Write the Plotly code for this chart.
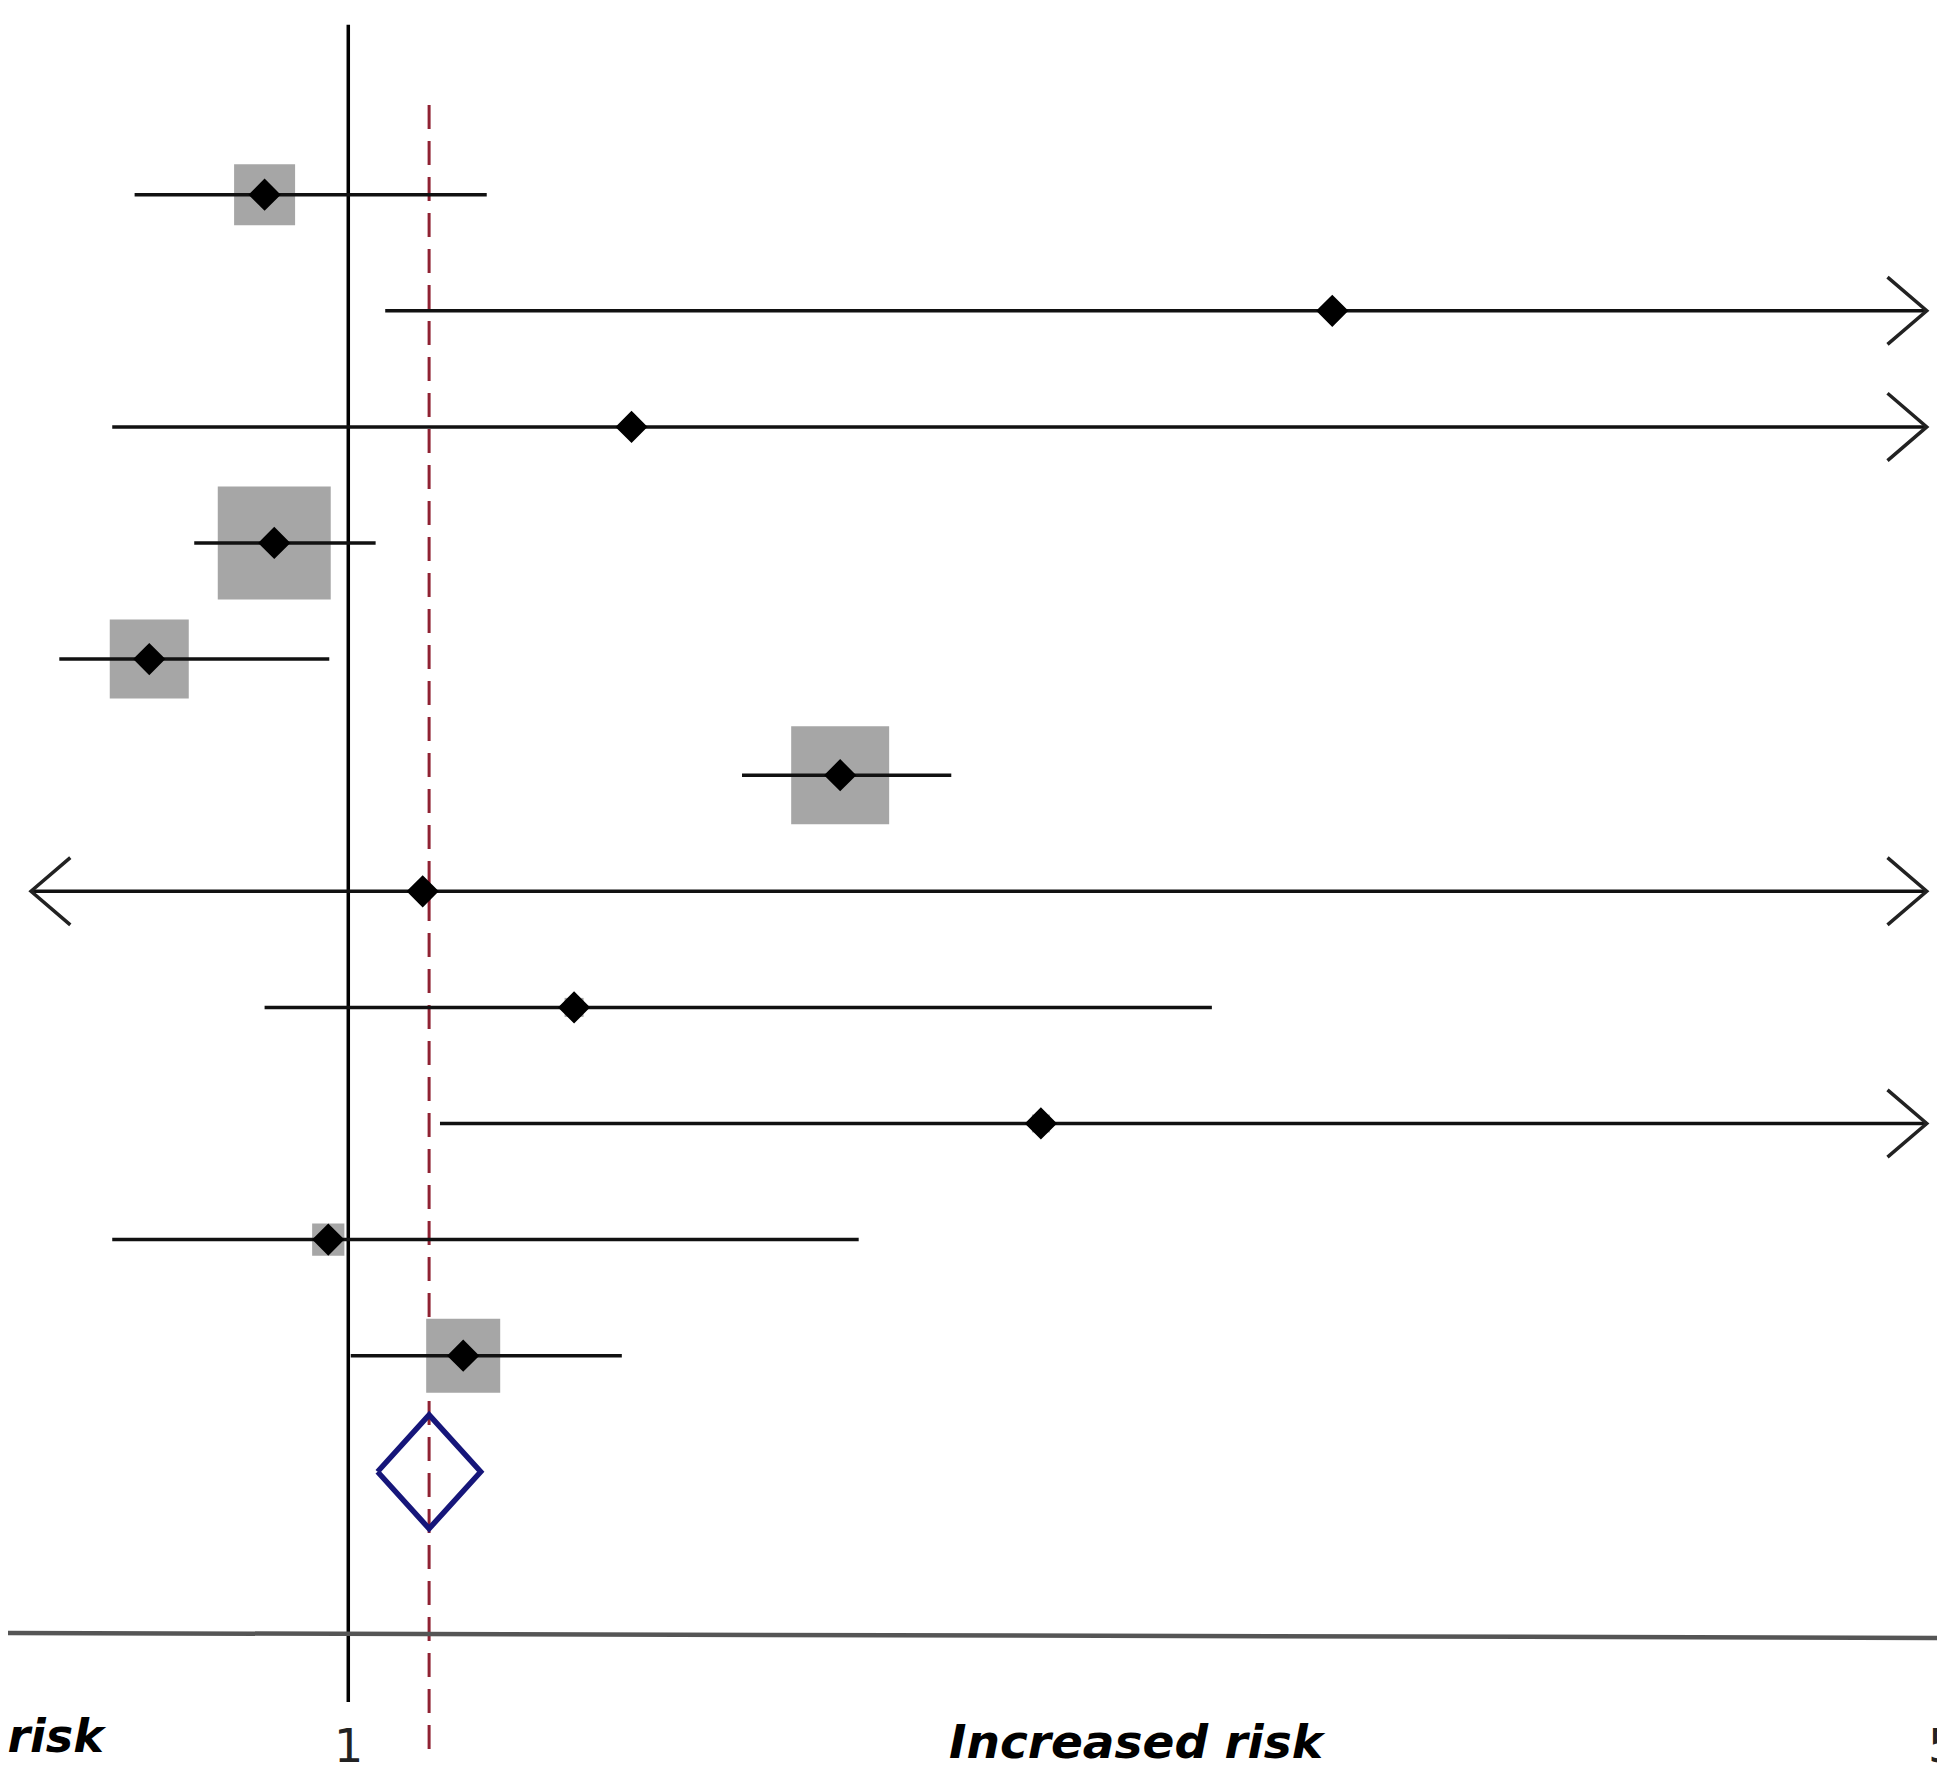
import numpy as np
import plotly.graph_objects as go

# ---------------- data ----------------
studies = ["Study 1", "Study 2", "Study 3", "Study 4", "Study 5", "Study 6",
           "Study 7", "Study 8", "Study 9", "Study 10", "Study 11"]
risk_ratio = [0.919, 2.70, 1.331, 0.928, 0.818, 1.643, 1.078, 1.256, 2.012, 0.980, 1.123]
ci_low = [0.806, 1.038, 0.788, 0.856, 0.747, 1.488, 0.45, 0.919, 1.097, 0.788, 1.0025]
ci_high = [1.150, 9.5, 7.5, 1.028, 0.981, 1.838, 6.0, 2.391, 7.0, 1.674, 1.318]
weight_pct = [9.3, 0.4, 0.5, 31.9, 15.6, 24.0, 0.3, 0.9, 0.8, 2.6, 13.7]
pooled_rr = 1.085
pooled_low = 1.030
pooled_high = 1.143
tick_vals = [1, 5]
tick_text = ["1", "5"]
label_left = "Reduced risk"
label_right = "Increased risk"

# ---------------- style constants ----------------
W, H = 1937, 1764
X_RANGE = [np.log10(0.7093), np.log10(5.0) + 0.001]
Y_RANGE = [14.586, -0.608]
CLIP_LO, CLIP_HI = 0.726, 4.92
ARM_F = 10 ** 0.0172
ARM_Y = 0.29
SQ_SCALE = 20.0
DIAMOND_HALF = 0.49
FONT = "DejaVu Sans"

rows = list(range(1, len(studies) + 1))
pooled_row = len(studies) + 1

fig = go.Figure()

# weight squares
fig.add_trace(go.Scatter(
    x=risk_ratio, y=rows, mode="markers",
    marker=dict(symbol="square", size=[SQ_SCALE * np.sqrt(w) for w in weight_pct],
                color="#a6a6a6", opacity=1, line=dict(width=0)),
    hoverinfo="skip"))

# CI lines + arrow chevrons
lx, ly, ax_, ay_ = [], [], [], []
for r, lo, hi in zip(rows, ci_low, ci_high):
    lo_d = max(lo, CLIP_LO)
    hi_d = min(hi, CLIP_HI)
    lx += [lo_d, hi_d, None]
    ly += [r, r, None]
    if hi > CLIP_HI:
        ax_ += [hi_d / ARM_F, hi_d, hi_d / ARM_F, None]
        ay_ += [r - ARM_Y, r, r + ARM_Y, None]
    if lo < CLIP_LO:
        ax_ += [lo_d * ARM_F, lo_d, lo_d * ARM_F, None]
        ay_ += [r - ARM_Y, r, r + ARM_Y, None]

fig.add_trace(go.Scatter(x=lx, y=ly, mode="lines",
                         line=dict(color="#111111", width=3.5), hoverinfo="skip"))
fig.add_trace(go.Scatter(x=ax_, y=ay_, mode="lines",
                         line=dict(color="#222222", width=3.5), hoverinfo="skip"))

# point estimates
fig.add_trace(go.Scatter(
    x=risk_ratio, y=rows, mode="markers",
    marker=dict(symbol="diamond", size=21, color="black",
                line=dict(color="black", width=3.5)),
    hoverinfo="skip"))

# pooled diamond
fig.add_trace(go.Scatter(
    x=[pooled_low, pooled_rr, pooled_high, pooled_rr, pooled_low],
    y=[pooled_row, pooled_row - DIAMOND_HALF, pooled_row,
       pooled_row + DIAMOND_HALF, pooled_row],
    mode="lines", line=dict(color="#16167a", width=5.5), hoverinfo="skip"))

shapes = [
    # line of no effect
    dict(type="line", xref="x", yref="paper", x0=1, x1=1, y0=0.0397, y1=0.9905,
         line=dict(color="black", width=3.5), layer="below"),
    # pooled estimate dashed line
    dict(type="line", xref="x", yref="paper", x0=pooled_rr, x1=pooled_rr,
         y0=0.013, y1=0.9484,
         line=dict(color="#8f2233", width=3, dash="24px,12px"), layer="below"),
    # horizontal axis line
    dict(type="line", xref="paper", yref="paper", x0=0, x1=1, y0=0.0788, y1=0.0760,
         line=dict(color="#555555", width=4.5), layer="above"),
]

annotations = []
for v, t in zip(tick_vals, tick_text):
    annotations.append(dict(x=np.log10(v), y=0.0150, xref="x", yref="paper", text=t,
                            showarrow=False, xanchor="center", yanchor="middle",
                            font=dict(family=FONT, size=46, color="#222222")))
annotations.append(dict(x=100 / W, y=0.0205, xref="paper", yref="paper",
                        text="<b><i>" + label_left + "</i></b>", showarrow=False,
                        xanchor="right", yanchor="middle",
                        font=dict(family=FONT, size=46, color="black")))
annotations.append(dict(x=1129 / W, y=0.0172, xref="paper", yref="paper",
                        text="<b><i>" + label_right + "</i></b>", showarrow=False,
                        xanchor="center", yanchor="middle",
                        font=dict(family=FONT, size=47, color="black")))

fig.update_layout(
    width=W, height=H,
    margin=dict(l=0, r=0, t=0, b=0),
    paper_bgcolor="white", plot_bgcolor="white",
    showlegend=False,
    shapes=shapes, annotations=annotations,
    xaxis=dict(type="log", range=X_RANGE, visible=False),
    yaxis=dict(range=Y_RANGE, visible=False),
)

fig.write_html("out.html")
